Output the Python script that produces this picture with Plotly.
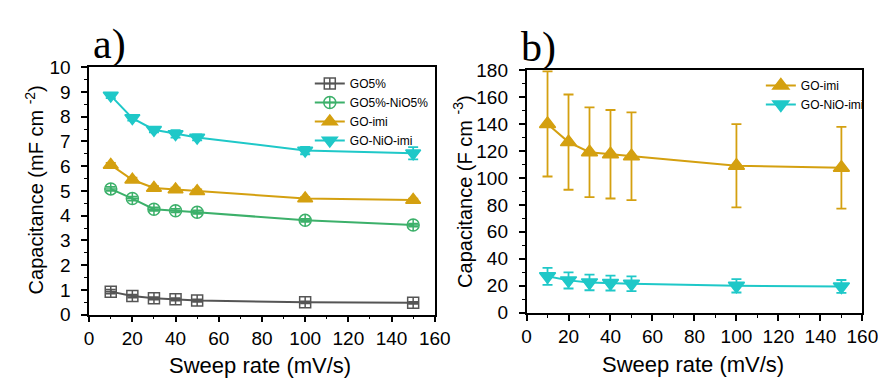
import plotly.graph_objects as go

sweep = [10, 20, 30, 40, 50, 100, 150]

# Panel a (areal capacitance, mF cm-2)
go5 = [0.93, 0.75, 0.66, 0.62, 0.57, 0.50, 0.48]
go5_err = [0.08, 0.06, 0.05, 0.05, 0.05, 0.04, 0.04]
go5_nio5 = [5.08, 4.69, 4.26, 4.20, 4.14, 3.81, 3.62]
go5_nio5_err = [0.08, 0.08, 0.07, 0.07, 0.07, 0.06, 0.06]
go_imi_a = [6.05, 5.45, 5.12, 5.06, 4.99, 4.69, 4.63]
go_imi_a_err = [0.08, 0.08, 0.07, 0.07, 0.07, 0.06, 0.06]
go_nio_imi_a = [8.85, 7.94, 7.47, 7.30, 7.16, 6.63, 6.52]
go_nio_imi_a_err = [0.10, 0.10, 0.10, 0.15, 0.12, 0.15, 0.25]

# Panel b (volumetric capacitance, F cm-3)
go_imi_b = [140.0, 126.5, 119.0, 117.5, 116.0, 109.0, 107.5]
go_imi_b_err = [39.0, 35.3, 33.3, 32.8, 32.5, 30.8, 30.3]
go_nio_imi_b = [27.0, 24.0, 22.5, 22.0, 21.5, 20.0, 19.5]
go_nio_imi_b_err = [6.3, 6.0, 5.8, 5.5, 5.5, 5.0, 4.8]

GRAY = "#555555"
GREEN = "#3cb06a"
GOLD = "#d4a010"
CYAN = "#1fc8c8"

fig = go.Figure()

def add(x, y, err, name, color, symbol, size, xa, ya, legend):
    fig.add_trace(go.Scatter(
        x=x, y=y, name=name, mode="lines+markers",
        line=dict(color=color, width=2),
        marker=dict(symbol=symbol, size=size, color=color,
                    line=dict(color=color, width=1.5)),
        error_y=dict(type="data", array=err, visible=True, color=color,
                     thickness=1.8, width=5),
        xaxis=xa, yaxis=ya, legend=legend))

add(sweep, go5, go5_err, "GO5%", GRAY, "square-cross-open", 11, "x", "y", "legend")
add(sweep, go5_nio5, go5_nio5_err, "GO5%-NiO5%", GREEN, "circle-cross-open", 12, "x", "y", "legend")
add(sweep, go_imi_a, go_imi_a_err, "GO-imi", GOLD, "triangle-up", 13, "x", "y", "legend")
add(sweep, go_nio_imi_a, go_nio_imi_a_err, "GO-NiO-imi", CYAN, "triangle-down", 13, "x", "y", "legend")

add(sweep, go_imi_b, go_imi_b_err, "GO-imi", GOLD, "triangle-up", 14, "x2", "y2", "legend2")
add(sweep, go_nio_imi_b, go_nio_imi_b_err, "GO-NiO-imi", CYAN, "triangle-down", 14, "x2", "y2", "legend2")

axis_common = dict(showline=True, linecolor="black", linewidth=1.5, mirror=True,
                   ticks="outside", ticklen=6, tickwidth=1.5, tickcolor="black",
                   showgrid=False, zeroline=False,
                   tickfont=dict(family="Liberation Sans, Arial", size=19, color="black"))
yaxis_extra = dict(ticklabelstandoff=7)

fig.update_layout(
    width=886, height=380,
    margin=dict(l=0, r=0, t=0, b=0),
    paper_bgcolor="white", plot_bgcolor="white",
    showlegend=True,
    xaxis=dict(domain=[78/886, 432/886], range=[0, 160], dtick=20, anchor="y",
               minor=dict(ticks="outside", ticklen=3, dtick=10, tickcolor="black", tickwidth=1.2),
               **axis_common),
    yaxis=dict(domain=[(380-314)/380, (380-52)/380], range=[0, 10], dtick=1, anchor="x",
               minor=dict(ticks="outside", ticklen=3, dtick=0.5, tickcolor="black", tickwidth=1.2),
               **axis_common, **yaxis_extra),
    xaxis2=dict(domain=[526/886, 870/886], range=[0, 160], dtick=20, anchor="y2",
                minor=dict(ticks="outside", ticklen=3, dtick=10, tickcolor="black", tickwidth=1.2),
                **axis_common),
    yaxis2=dict(domain=[(380-312)/380, (380-55)/380], range=[0, 180], dtick=20, anchor="x2",
                minor=dict(ticks="outside", ticklen=3, dtick=10, tickcolor="black", tickwidth=1.2),
                **axis_common, **yaxis_extra),
    legend=dict(x=304/886, y=1-54/380, xanchor="left", yanchor="top",
                bgcolor="rgba(0,0,0,0)", borderwidth=0, itemwidth=30,
                tracegroupgap=0,
                font=dict(family="Liberation Sans, Arial", size=12, color="black")),
    legend2=dict(x=766/886, y=1-56/380, xanchor="left", yanchor="top",
                 bgcolor="rgba(0,0,0,0)", borderwidth=0, itemwidth=30,
                 font=dict(family="Liberation Sans, Arial", size=12, color="black")),
)

ytitle_font = dict(family="Liberation Sans, Arial", size=20, color="black")
xtitle_font = dict(family="Liberation Sans, Arial", size=22, color="black")
annots = [
    dict(text="a)", x=80/886, y=1-28/380, font=dict(family="Liberation Serif, Times New Roman", size=42, color="black")),
    dict(text="b)", x=518/886, y=1-31/380, font=dict(family="Liberation Serif, Times New Roman", size=42, color="black")),
    dict(text="Capacitance (mF cm <sup>-2</sup>)", x=22/886, y=1-182/380, textangle=-90, font=ytitle_font, xanchor="center"),
    dict(text="Sweep rate (mV/s)", x=253/886, y=1-368/380, font=xtitle_font, xanchor="center"),
    dict(text="Capacitance (F cm <sup>-3</sup>)", x=461/886, y=1-184/380, textangle=-90, font=ytitle_font, xanchor="center"),
    dict(text="Sweep rate (mV/s)", x=697/886, y=1-367/380, font=xtitle_font, xanchor="center"),
]
for a in annots:
    a.setdefault("xanchor", "left")
    fig.add_annotation(xref="paper", yref="paper", showarrow=False, yanchor="middle", **a)

fig.write_html("out.html")
